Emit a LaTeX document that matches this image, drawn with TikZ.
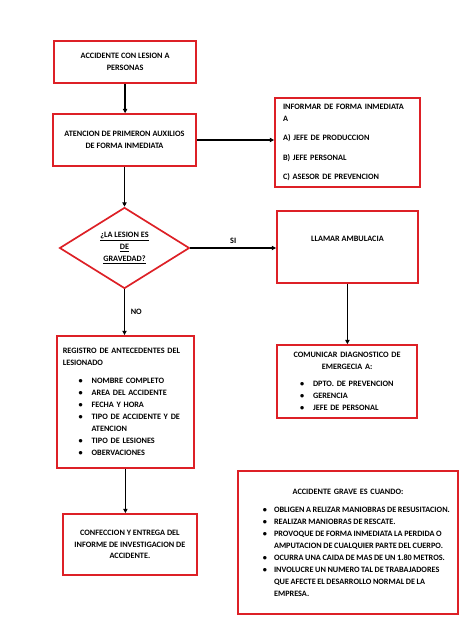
\documentclass[tikz,border=0pt]{standalone}
\usepackage{fontspec}
\setmainfont{Carlito}
\usetikzlibrary{shapes.geometric,arrows.meta}

\definecolor{boxred}{RGB}{221,32,38}
\hyphenpenalty=10000
\exhyphenpenalty=10000
\newlength{\bhang}
\newcommand{\bitem}[1]{\par\noindent\hangindent=\bhang\hangafter=1\makebox[\bhang][l]{\textbullet}#1}

\tikzset{
  redbox/.style={draw=boxred, line width=1.6pt, rectangle, align=center, inner sep=0.2cm},
  redrhomb/.style={draw=boxred, line width=1.6pt, diamond, aspect=1.6, align=center, inner sep=1pt},
  arr/.style={line width=1.2pt, -{Triangle[length=4pt,width=4pt]}},
  lbl/.style={font=\bfseries\fontsize{7.8}{11}\selectfont}
}

\begin{document}
\begin{tikzpicture}[every node/.style={font=\bfseries\fontsize{7.8}{11.3}\selectfont}]

\useasboundingbox (0,0) rectangle (15.8,21.067);

%left column
\node[redbox, minimum width=4.73cm, minimum height=1.4cm] (accidente) at (4.17,19.0)
  {ACCIDENTE CON LESION A\\PERSONAS};
\node[redbox, minimum width=4.77cm, minimum height=1.73cm] (atencion) at (4.15,16.4)
  {ATENCION DE PRIMERON AUXILIOS\\DE FORMA INMEDIATA};
\node[redrhomb, minimum width=4.33cm, minimum height=2.7cm] (gravedad) at (4.15,12.8)
  {\underline{¿LA LESION ES}\\\underline{DE}\\\underline{GRAVEDAD?}};
\node[redbox, minimum width=4.57cm, minimum height=4.4cm, text width=4.17cm, align=left] (registro) at (4.18,7.67)
  {REGISTRO DE ANTECEDENTES DEL\\LESIONADO\par\vspace{6pt}\setlength{\bhang}{0.43cm}\leftskip=0.53cm
   \bitem{NOMBRE COMPLETO}
   \bitem{AREA DEL ACCIDENTE}
   \bitem{FECHA Y HORA}
   \bitem{TIPO DE ACCIDENTE Y DE ATENCION}
   \bitem{TIPO DE LESIONES}
   \bitem{OBERVACIONES}\par};
\node[redbox, minimum width=4.47cm, minimum height=2.03cm] (confeccion) at (4.33,2.92)
  {CONFECCION Y ENTREGA DEL\\INFORME DE INVESTIGACION DE\\ACCIDENTE.};

%right column
\node[redbox, minimum width=4.83cm, minimum height=2.97cm, text width=4.29cm, align=left, inner xsep=0.27cm] (informar) at (11.58,16.32)
  {INFORMAR DE FORMA INMEDIATA\\A\\[7pt]A) JEFE DE PRODUCCION\\[7pt]B) JEFE PERSONAL\\[7pt]C) ASESOR DE PREVENCION};
\node[redbox, minimum width=4.7cm, minimum height=2.4cm] (llamar) at (11.58,12.83)
  {LLAMAR AMBULACIA\\[5pt]};
\node[redbox, minimum width=4.67cm, minimum height=2.43cm, text width=4.27cm, align=left] (comunicar) at (11.57,8.35)
  {{\centering COMUNICAR DIAGNOSTICO DE\\EMERGECIA A:\par}\vspace{5pt}\setlength{\bhang}{0.43cm}\leftskip=0.57cm
   \bitem{DPTO. DE PREVENCION}
   \bitem{GERENCIA}
   \bitem{JEFE DE PERSONAL}\par};
\node[redbox, minimum width=7.33cm, minimum height=4.77cm, text width=7.19cm, align=left, inner xsep=0.07cm] (grave) at (11.6,2.98)
  {{\centering ACCIDENTE GRAVE ES CUANDO:\par}\vspace{6pt}\setlength{\bhang}{0.37cm}\leftskip=0.76cm
   \spaceskip=0.85\fontdimen2\font plus 0.1em minus 0.05em
   \bitem{OBLIGEN A RELIZAR MANIOBRAS DE RESUSITACION.}
   \bitem{REALIZAR MANIOBRAS DE RESCATE.}
   \bitem{PROVOQUE DE FORMA INMEDIATA LA PERDIDA O\newline AMPUTACION DE CUALQUIER PARTE DEL CUERPO.}
   \bitem{OCURRA UNA CAIDA DE MAS DE UN 1.80 METROS.}
   \bitem{INVOLUCRE UN NUMERO TAL DE TRABAJADORES\newline QUE AFECTE EL DESARROLLO NORMAL DE LA\newline EMPRESA.}\par};

%arrows
\draw[arr] (accidente.south) -- (accidente.south |- atencion.north);
\draw[arr] (atencion.east) -- (atencion.east -| informar.west);
\draw[arr] (atencion.south) -- (gravedad.north);
\draw[arr] (gravedad.east) -- node[lbl, above] {SI} (gravedad.east -| llamar.west);
\draw[arr] (gravedad.south) -- node[lbl, right, xshift=2pt] {NO} (gravedad.south |- registro.north);
\draw[arr] (registro.south) -- (registro.south |- confeccion.north);
\draw[arr] (llamar.south) -- (llamar.south |- comunicar.north);

\end{tikzpicture}
\end{document}
